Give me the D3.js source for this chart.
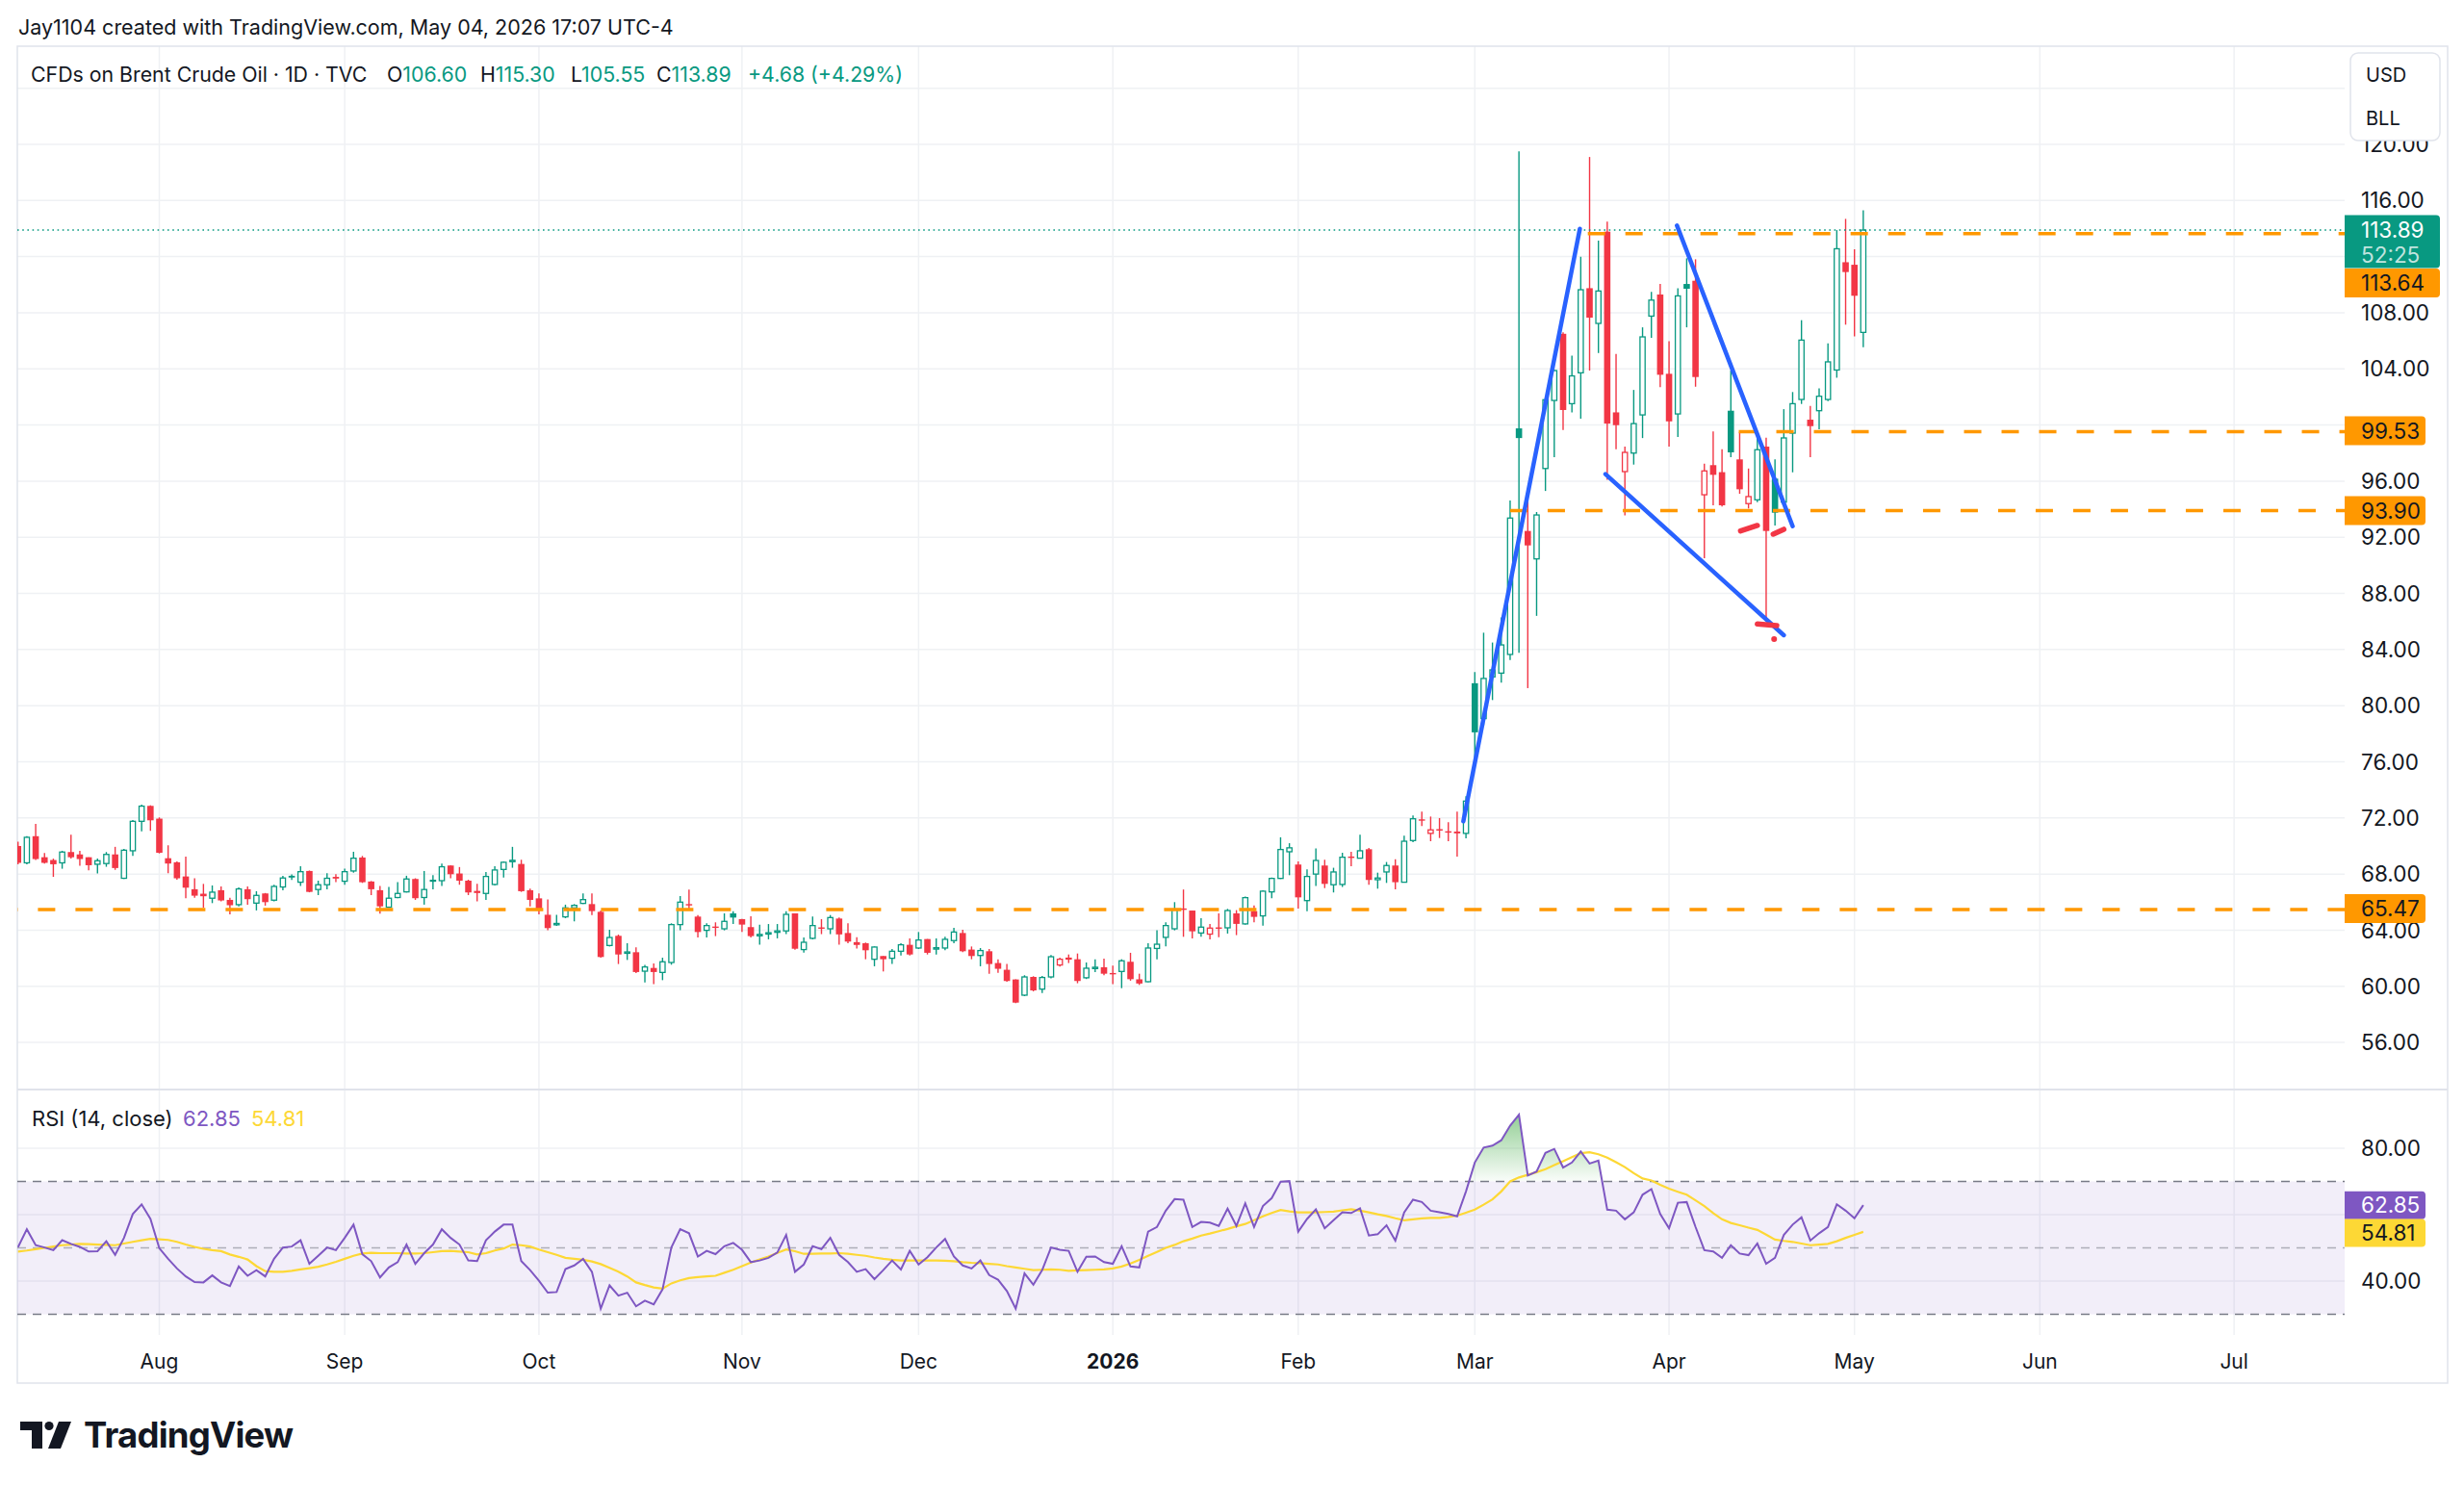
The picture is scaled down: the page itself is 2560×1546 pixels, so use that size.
<!DOCTYPE html>
<html>
<head>
<meta charset="utf-8">
<script src="https://cdn.jsdelivr.net/npm/d3@7"></script>
<style>
  html, body { margin: 0; padding: 0; background: #fff; }
  svg { display: block; font-family: Inter, "Noto Sans", sans-serif; }
</style>
</head>
<body>
<svg id="chart" width="2560" height="1546"></svg>
<script>
// daily bars, Jul 10 2025 .. May 4 2026 (index 0..209)
const opens = [
  70.0, 68.8, 70.7, 69.2, 69.0, 68.8, 69.57, 69.4, 69.2, 68.7,
  68.75, 69.4, 67.7, 69.66, 71.76, 72.86, 71.95, 69.13, 68.84, 67.83,
  66.92, 66.6, 66.28, 66.85, 66.16, 65.82, 66.92, 65.93, 66.62, 66.14,
  67.08, 67.88, 67.42, 68.22, 66.9, 67.24, 67.8, 67.49, 68.22, 69.18,
  67.47, 66.85, 65.64, 66.33, 66.73, 67.65, 66.33, 67.6, 67.53, 68.61,
  68.04, 67.53, 66.8, 66.62, 67.26, 68.33, 68.95, 68.72, 66.85, 66.27,
  65.1, 64.4, 64.95, 65.59, 65.91, 65.86, 65.31, 62.91, 63.6, 62.4,
  62.43, 61.08, 61.31, 60.99, 61.7, 64.4, 65.86, 64.97, 63.99, 64.26,
  64.1, 65.2, 64.79, 64.22, 63.6, 63.8, 63.85, 63.95, 65.2, 62.62,
  63.42, 64.2, 64.1, 64.83, 63.8, 63.15, 63.07, 61.93, 62.16, 62.0,
  62.5, 62.96, 62.73, 63.37, 62.7, 62.73, 63.26, 63.8, 62.62, 62.2,
  62.5, 61.66, 61.18, 60.49, 59.37, 60.67, 59.8, 60.67, 61.52, 62.05,
  61.93, 60.61, 61.31, 61.36, 60.95, 61.06, 61.75, 60.5, 60.33, 62.7,
  63.49, 64.1, 65.55, 65.4, 63.8, 63.72, 64.2, 64.17, 65.2, 64.45,
  65.36, 65.02, 66.73, 67.69, 69.59, 68.68, 66.11, 68.0, 68.61, 67.24,
  67.26, 69.25, 69.13, 69.77, 67.6, 68.15, 68.61, 67.42, 70.39, 71.9,
  70.9, 71.2, 71.05, 71.03, 70.9, 81.6, 79.08, 82.05, 82.32, 83.65,
  99.76, 92.45, 90.46, 96.9, 101.75, 106.5, 101.52, 103.72, 109.75, 107.24,
  113.78, 100.9, 96.68, 98.0, 100.72, 107.76, 109.3, 103.65, 100.79, 110.05,
  110.28, 95.03, 97.14, 96.64, 101.02, 97.55, 94.4, 94.67, 98.46, 96.18,
  94.51, 99.42, 101.82, 100.38, 101.02, 101.82, 103.92, 111.6, 111.42, 106.6
];
const highs = [
  70.3, 70.7, 71.58, 69.5, 69.1, 69.66, 70.8, 69.66, 69.2, 69.1,
  69.57, 69.94, 69.8, 71.85, 72.95, 72.9, 72.04, 70.05, 68.9, 69.25,
  67.7, 67.3, 67.19, 67.12, 66.32, 67.05, 67.12, 66.78, 66.65, 67.24,
  67.88, 67.97, 68.56, 68.25, 67.53, 68.06, 68.0, 68.38, 69.59, 69.29,
  67.5, 67.15, 67.08, 67.42, 67.88, 67.7, 68.22, 67.92, 68.75, 68.63,
  68.5, 67.6, 67.3, 68.15, 68.56, 68.9, 69.94, 69.02, 66.96, 66.62,
  66.2, 65.1, 65.82, 65.86, 66.62, 66.62, 65.4, 64.03, 63.69, 63.07,
  62.78, 61.52, 61.63, 62.04, 64.49, 66.43, 66.89, 65.08, 64.49, 64.56,
  65.2, 65.36, 64.8, 65.0, 64.4, 64.44, 64.44, 65.36, 65.2, 63.48,
  64.97, 64.79, 65.08, 64.9, 64.49, 63.5, 63.12, 62.84, 62.16, 62.66,
  63.07, 63.42, 63.87, 63.37, 63.42, 63.53, 64.17, 64.03, 62.84, 62.73,
  62.66, 61.93, 61.59, 60.5, 60.79, 60.72, 60.74, 62.23, 62.05, 62.27,
  62.34, 61.7, 61.93, 61.98, 61.47, 61.93, 62.39, 60.9, 63.07, 63.99,
  64.56, 66.0, 66.9, 65.4, 64.86, 64.44, 65.2, 65.52, 65.43, 66.4,
  65.77, 66.85, 67.76, 70.62, 70.2, 68.9, 68.33, 69.82, 69.02, 68.45,
  69.52, 69.59, 70.8, 69.86, 68.1, 68.86, 69.06, 70.73, 72.17, 72.45,
  72.1, 71.99, 71.7, 72.45, 73.55, 82.4, 85.2, 84.5, 86.28, 94.62,
  119.5, 95.08, 93.8, 101.9, 103.95, 106.6, 104.95, 111.99, 119.1, 113.14,
  114.5, 105.07, 98.46, 102.5, 106.96, 109.48, 110.05, 105.98, 109.75, 111.88,
  111.81, 97.25, 99.54, 98.28, 103.88, 99.5, 96.9, 99.2, 99.1, 97.55,
  101.13, 102.35, 107.47, 101.36, 102.62, 105.82, 113.89, 114.69, 112.52, 115.3
];
const lows = [
  68.7, 68.7, 69.0, 68.75, 67.8, 68.38, 69.1, 68.6, 68.27, 68.05,
  68.52, 68.3, 67.65, 69.3, 71.05, 71.08, 69.47, 68.06, 67.6, 66.28,
  66.32, 65.6, 65.93, 66.05, 65.13, 65.7, 65.82, 65.41, 65.75, 66.05,
  66.85, 67.58, 67.15, 66.7, 66.5, 66.92, 67.42, 67.24, 68.1, 67.37,
  66.5, 65.18, 65.6, 66.28, 66.69, 66.16, 65.82, 66.92, 67.15, 67.7,
  67.24, 66.5, 66.05, 66.16, 67.19, 67.76, 68.45, 66.73, 65.7, 65.13,
  64.0, 64.3, 64.86, 64.63, 65.86, 65.08, 62.05, 62.84, 61.59, 61.88,
  60.95, 60.28, 60.15, 60.44, 61.54, 64.0, 65.54, 63.48, 63.48, 63.58,
  63.99, 64.44, 63.87, 63.48, 62.96, 63.35, 63.42, 63.72, 62.6, 62.4,
  63.35, 63.72, 63.72, 62.96, 63.07, 62.7, 61.93, 61.43, 61.06, 61.59,
  62.2, 62.2, 62.66, 62.27, 62.27, 62.57, 63.07, 62.43, 61.93, 61.43,
  60.9, 60.97, 60.33, 58.8, 59.3, 59.64, 59.53, 60.56, 61.4, 61.66,
  60.22, 60.52, 61.02, 60.79, 60.15, 59.87, 60.4, 60.1, 60.3, 61.93,
  62.85, 63.99, 63.53, 63.42, 63.53, 63.35, 63.5, 63.76, 63.65, 64.4,
  64.56, 64.33, 66.27, 67.65, 67.92, 65.54, 65.36, 67.15, 67.0, 66.69,
  67.08, 68.56, 69.13, 67.24, 66.96, 67.37, 66.92, 67.4, 70.27, 71.42,
  70.34, 70.57, 70.34, 69.25, 70.55, 75.9, 78.6, 80.4, 81.64, 83.26,
  83.76, 81.25, 86.4, 95.3, 97.7, 99.65, 100.9, 100.45, 103.88, 105.13,
  96.1, 98.28, 93.55, 97.18, 99.07, 106.21, 102.69, 98.46, 99.15, 106.96,
  102.73, 90.51, 94.28, 94.2, 97.7, 95.1, 94.05, 94.5, 86.16, 92.84,
  94.4, 96.63, 101.5, 97.7, 99.7, 101.7, 103.37, 107.15, 106.32, 105.55
];
const closes = [
  68.8, 70.62, 69.07, 68.8, 68.7, 69.57, 69.2, 69.07, 68.63, 68.95,
  69.4, 68.43, 69.7, 71.76, 72.84, 71.83, 69.52, 68.75, 67.7, 67.03,
  66.46, 66.42, 66.71, 66.12, 65.78, 66.94, 66.21, 66.48, 66.0, 67.12,
  67.72, 67.75, 68.17, 66.73, 67.24, 67.7, 67.68, 68.17, 69.13, 67.42,
  66.92, 65.7, 66.28, 66.62, 67.65, 66.28, 66.9, 67.45, 68.52, 67.99,
  67.53, 66.69, 66.65, 67.83, 68.29, 68.84, 68.98, 66.78, 66.16, 65.4,
  64.15, 64.48, 65.59, 65.77, 66.18, 65.36, 62.09, 63.48, 62.27, 62.45,
  61.02, 61.38, 61.02, 61.75, 64.4, 66.0, 65.77, 63.87, 64.33, 64.19,
  64.63, 64.9, 64.4, 63.58, 63.7, 63.82, 63.95, 65.13, 62.68, 63.14,
  64.33, 64.12, 64.9, 63.7, 63.19, 62.95, 62.57, 62.8, 61.93, 62.5,
  62.96, 62.27, 63.3, 62.39, 62.75, 63.35, 63.87, 62.5, 62.16, 62.55,
  61.59, 61.25, 60.38, 58.84, 60.67, 59.71, 60.63, 62.11, 61.93, 61.9,
  60.38, 61.29, 61.36, 60.9, 60.88, 61.82, 60.51, 60.2, 62.73, 63.0,
  64.33, 65.47, 65.45, 63.92, 64.22, 64.15, 64.12, 65.4, 64.45, 66.32,
  64.95, 66.78, 67.69, 69.75, 69.87, 66.34, 67.83, 68.97, 67.3, 68.15,
  69.2, 69.15, 69.66, 67.58, 67.72, 68.61, 67.42, 70.34, 71.94, 71.83,
  71.15, 71.1, 71.0, 70.9, 73.2, 78.1, 81.94, 82.55, 84.33, 93.37,
  99.07, 91.42, 93.59, 101.8, 103.88, 101.07, 103.5, 109.64, 107.65, 109.55,
  100.1, 99.99, 98.05, 100.1, 106.28, 108.9, 103.58, 100.26, 109.2, 109.71,
  103.42, 96.73, 96.45, 94.28, 98.05, 95.42, 94.9, 98.24, 92.45, 93.75,
  99.08, 101.52, 106.05, 99.92, 102.05, 104.5, 112.56, 110.9, 109.21, 113.89
];

// RSI (14, close) and its moving average, one value per bar
const rsiValues = [
  50.2, 55.6, 50.8, 50.1, 49.3, 52.3, 51.2, 50.3, 48.9, 49.0,
  52.0, 47.9, 53.0, 60.2, 63.1, 58.7, 49.9, 46.7, 43.8, 41.4,
  39.7, 39.6, 41.7, 39.6, 38.5, 44.4, 41.6, 43.3, 41.4, 46.7,
  50.1, 50.4, 52.3, 45.2, 47.6, 50.1, 49.3, 53.0, 57.0, 48.1,
  46.0, 41.1, 44.1, 45.7, 51.0, 45.2, 48.4, 51.0, 55.6, 53.0,
  51.0, 46.2, 46.0, 52.3, 54.9, 57.0, 57.0, 46.0, 43.3, 40.1,
  36.5, 36.7, 43.6, 44.7, 46.7, 42.8, 31.7, 38.7, 35.6, 36.5,
  32.4, 34.1, 33.0, 37.5, 50.1, 55.6, 54.4, 47.4, 49.1, 48.1,
  50.5, 51.5, 49.4, 45.7, 46.2, 47.0, 48.6, 53.9, 42.8, 45.0,
  50.5, 49.6, 53.0, 47.9, 45.7, 42.8, 43.6, 40.6, 43.3, 46.2,
  43.5, 49.1, 45.0, 47.2, 50.1, 52.7, 47.4, 44.7, 43.8, 46.2,
  41.8, 40.4, 37.0, 31.7, 42.3, 38.9, 43.3, 50.1, 49.4, 49.1,
  42.8, 47.3, 47.4, 45.7, 45.2, 50.5, 44.4, 44.1, 54.9, 56.3,
  61.2, 64.7, 64.5, 56.3, 57.8, 57.6, 56.6, 61.8, 56.6, 63.4,
  56.3, 62.6, 65.0, 69.9, 70.1, 54.9, 58.7, 61.6, 55.9, 58.3,
  60.7, 60.5, 61.9, 53.7, 54.1, 56.8, 52.2, 60.7, 64.5, 63.8,
  61.2, 60.7, 60.2, 59.5, 67.0, 75.7, 80.2, 80.8, 82.4, 86.8,
  90.1, 71.8, 73.0, 78.6, 79.8, 74.2, 75.7, 79.0, 75.4, 76.3,
  61.5, 61.2, 58.6, 60.7, 66.0, 67.7, 60.2, 55.9, 63.6, 63.8,
  56.3, 49.3, 48.9, 47.0, 50.8, 48.3, 47.8, 51.3, 45.2, 47.0,
  53.9, 57.0, 59.2, 52.2, 54.4, 56.3, 63.1, 61.2, 58.9, 62.85
];
const rsiMA = [
  48.9, 49.2, 49.6, 50.0, 50.4, 50.8, 51.0, 51.2, 51.1, 51.0,
  50.9, 50.8, 51.3, 51.8, 52.3, 52.7, 52.6, 52.4, 51.8, 51.0,
  50.3, 49.7, 49.3, 49.0, 48.0, 47.3, 46.5, 44.5, 43.0, 42.8,
  42.8, 43.1, 43.5, 43.9, 44.3, 45.0, 45.8, 46.7, 47.6, 48.3,
  48.5, 48.4, 48.4, 48.4, 48.3, 48.3, 48.4, 48.7, 49.0, 49.1,
  48.9, 48.7, 48.0, 48.4, 49.2, 49.8, 51.0, 50.8, 50.4, 49.5,
  48.7, 47.9, 47.0, 46.7, 46.4, 45.9, 45.1, 44.0, 42.8, 41.4,
  39.6, 38.8, 38.1, 37.7, 39.3, 40.2, 40.9, 41.2, 41.4, 41.6,
  42.5, 43.4, 44.5, 45.6, 46.5, 47.4, 48.5, 49.5, 49.0, 48.2,
  48.2, 48.3, 48.3, 48.4, 48.2, 47.9, 47.6, 47.1, 46.7, 46.4,
  46.2, 46.2, 46.2, 46.2, 46.2, 46.1, 46.0, 45.7, 45.5, 45.4,
  45.2, 45.0, 44.5, 44.1, 43.7, 43.3, 43.4, 43.5, 43.4, 43.1,
  43.2, 43.3, 43.4, 43.5, 43.8, 44.4, 45.3, 46.4, 47.6, 48.8,
  50.0, 50.9, 52.0, 52.8, 53.7, 54.3, 55.0, 55.7, 56.5, 57.2,
  58.3, 59.5, 60.5, 61.4, 61.0, 60.7, 60.7, 60.7, 60.8, 60.9,
  61.3, 61.6, 61.2, 60.7, 60.1, 59.6, 58.9, 58.3, 58.6, 58.9,
  59.0, 59.0, 59.3, 59.7, 60.6, 61.5, 63.0, 64.6, 67.0, 70.0,
  71.2, 72.0, 72.8, 73.7, 74.9, 76.1, 77.3, 78.5, 78.8, 78.2,
  77.2, 75.8, 74.3, 72.5, 70.9, 70.3, 69.0, 67.8, 66.9, 66.0,
  64.3, 62.6, 60.5, 58.6, 57.5, 56.8, 56.1, 55.4, 54.0, 52.5,
  52.1, 51.8, 51.3, 50.8, 51.0, 51.2, 52.0, 53.0, 53.9, 54.81
];

// time axis: label and the bar index it sits on
const monthLabels = ["Aug", "Sep", "Oct", "Nov", "Dec", "2026", "Feb", "Mar", "Apr", "May", "Jun", "Jul"];
const monthBars = [16, 37, 59, 82, 102, 124, 145, 165, 187, 208, 229, 251];

const priceTicks = [56, 60, 64, 68, 72, 76, 80, 84, 88, 92, 96, 100, 104, 108, 112, 116, 120, 124];
// labels the scale actually shows (the others sit under tags / the unit box)
const priceTickLabels = [56, 60, 64, 68, 72, 76, 80, 84, 88, 92, 96, 104, 108, 116, 120];
const rsiTicks = [80, 60, 40];
const rsiTickLabels = [80, 40];

// horizontal rays drawn on the chart: price and the bar they start from
const levelPrices = [65.47, 113.64, 99.53, 93.90];
const levelStartBars = [-2, 177.8, 194.9, 169.0];

// trend lines [bar1, price1, bar2, price2]
const trendLines = [
  [163.7, 71.76, 176.9, 113.98],
  [187.9, 114.21, 201.0, 92.79],
  [179.8, 96.5, 200.0, 85.02]
];
const markLines = [
  [195.1, 92.45, 197.0, 92.84],
  [198.8, 92.22, 200.0, 92.57],
  [197.0, 85.82, 199.2, 85.71]
];
const markDots = [[198.9, 84.75]];

const UP = "#089981", DOWN = "#F23645", TEXT = "#131722";
const GRID = "#eff1f4", BORDER = "#e0e3eb";

const plotLeft = 18, plotRight = 2436, frameRight = 2543;
const frameTop = 48, priceBottom = 1132, rsiBottom = 1387, frameBottom = 1437;

const x = d3.scaleLinear().domain([16, 208]).range([165.5, 1926.7]);
const y = d3.scaleLinear().domain([56, 116]).range([1083.1, 208.3]);
const yr = d3.scaleLinear().domain([40, 80]).range([1331, 1193]);

const svg = d3.select("#chart");
const defs = svg.append("defs");

defs.append("clipPath").attr("id", "clipPrice")
  .append("rect").attr("x", plotLeft).attr("y", frameTop)
  .attr("width", plotRight - plotLeft).attr("height", priceBottom - frameTop);
defs.append("clipPath").attr("id", "clipRsi")
  .append("rect").attr("x", plotLeft).attr("y", priceBottom)
  .attr("width", plotRight - plotLeft).attr("height", rsiBottom - priceBottom);
defs.append("clipPath").attr("id", "clipOver")
  .append("rect").attr("x", plotLeft).attr("y", priceBottom)
  .attr("width", plotRight - plotLeft).attr("height", yr(70) - priceBottom);

const grad = defs.append("linearGradient").attr("id", "obGrad")
  .attr("gradientUnits", "userSpaceOnUse")
  .attr("x1", 0).attr("x2", 0).attr("y1", yr(90)).attr("y2", yr(70));
grad.append("stop").attr("offset", 0).attr("stop-color", "rgba(76,175,80,0.6)");
grad.append("stop").attr("offset", 1).attr("stop-color", "rgba(76,175,80,0.03)");

svg.append("rect").attr("width", 2560).attr("height", 1546).attr("fill", "#fff");

// grid
const grid = svg.append("g");
grid.selectAll(".hgrid").data(priceTicks).enter().append("line")
  .attr("x1", plotLeft).attr("x2", plotRight)
  .attr("y1", d => y(d)).attr("y2", d => y(d))
  .attr("stroke", GRID).attr("stroke-width", 1.5)
  .attr("clip-path", "url(#clipPrice)");
grid.selectAll(".vgrid").data(monthBars).enter().append("line")
  .attr("x1", d => x(d)).attr("x2", d => x(d))
  .attr("y1", frameTop).attr("y2", rsiBottom)
  .attr("stroke", GRID).attr("stroke-width", 1.5);
grid.selectAll(".rgrid").data(rsiTicks).enter().append("line")
  .attr("x1", plotLeft).attr("x2", plotRight)
  .attr("y1", d => yr(d)).attr("y2", d => yr(d))
  .attr("stroke", GRID).attr("stroke-width", 1.5);

// frame
svg.append("rect").attr("x", plotLeft).attr("y", frameTop)
  .attr("width", frameRight - plotLeft).attr("height", frameBottom - frameTop)
  .attr("fill", "none").attr("stroke", BORDER).attr("stroke-width", 1.5);
svg.append("line").attr("x1", plotLeft).attr("x2", frameRight)
  .attr("y1", priceBottom).attr("y2", priceBottom)
  .attr("stroke", BORDER).attr("stroke-width", 2);

// candles (hollow when close > open, colour by close vs previous close)
const bars = d3.range(opens.length);
const colorOf = i => closes[i] >= (i > 0 ? closes[i - 1] : opens[i]) ? UP : DOWN;
const bodyW = 6.6;
const candles = svg.append("g").attr("clip-path", "url(#clipPrice)");

candles.selectAll(".wick").data(bars).enter().append("line")
  .attr("x1", i => x(i)).attr("x2", i => x(i))
  .attr("y1", i => y(highs[i])).attr("y2", i => y(lows[i]))
  .attr("stroke", colorOf).attr("stroke-width", 1.4);

candles.selectAll(".body").data(bars).enter().append("rect")
  .attr("x", i => closes[i] > opens[i] ? x(i) - bodyW / 2 + 0.65 : x(i) - bodyW / 2)
  .attr("y", i => y(Math.max(opens[i], closes[i])))
  .attr("width", i => closes[i] > opens[i] ? bodyW - 1.3 : bodyW)
  .attr("height", i => Math.max(Math.abs(y(opens[i]) - y(closes[i])), 1.4))
  .attr("fill", i => closes[i] > opens[i] ? "#fff" : colorOf(i))
  .attr("stroke", i => closes[i] > opens[i] ? colorOf(i) : "none")
  .attr("stroke-width", 1.3);

// drawings
const draw = svg.append("g").attr("clip-path", "url(#clipPrice)");
draw.append("line")
  .attr("x1", plotLeft).attr("x2", plotRight)
  .attr("y1", y(closes[closes.length - 1])).attr("y2", y(closes[closes.length - 1]))
  .attr("stroke", UP).attr("stroke-width", 1.6).attr("stroke-dasharray", "1.6,3.6");

draw.selectAll(".level").data(levelPrices).enter().append("line")
  .attr("x1", (d, k) => x(levelStartBars[k])).attr("x2", plotRight)
  .attr("y1", d => y(d)).attr("y2", d => y(d))
  .attr("stroke", "#FF9800").attr("stroke-width", 3.6).attr("stroke-dasharray", "18,21");

draw.selectAll(".trend").data(trendLines).enter().append("line")
  .attr("x1", d => x(d[0])).attr("y1", d => y(d[1]))
  .attr("x2", d => x(d[2])).attr("y2", d => y(d[3]))
  .attr("stroke", "#2962FF").attr("stroke-width", 4.5).attr("stroke-linecap", "round");

draw.selectAll(".mark").data(markLines).enter().append("line")
  .attr("x1", d => x(d[0])).attr("y1", d => y(d[1]))
  .attr("x2", d => x(d[2])).attr("y2", d => y(d[3]))
  .attr("stroke", DOWN).attr("stroke-width", 5.5).attr("stroke-linecap", "round");
draw.selectAll(".dot").data(markDots).enter().append("circle")
  .attr("cx", d => x(d[0])).attr("cy", d => y(d[1])).attr("r", 3)
  .attr("fill", DOWN);

// RSI pane
const rsiG = svg.append("g").attr("clip-path", "url(#clipRsi)");
rsiG.append("rect").attr("x", plotLeft).attr("width", plotRight - plotLeft)
  .attr("y", yr(70)).attr("height", yr(30) - yr(70))
  .attr("fill", "rgba(126,87,194,0.1)");
rsiG.selectAll(".band").data([70, 50, 30]).enter().append("line")
  .attr("x1", plotLeft).attr("x2", plotRight)
  .attr("y1", d => yr(d)).attr("y2", d => yr(d))
  .attr("stroke", d => d === 50 ? "rgba(120,123,134,0.55)" : "#787B86")
  .attr("stroke-width", 1.6).attr("stroke-dasharray", "9,7");

rsiG.append("path").datum(bars)
  .attr("clip-path", "url(#clipOver)")
  .attr("fill", "url(#obGrad)")
  .attr("d", d3.area().x(i => x(i)).y0(yr(70)).y1(i => yr(rsiValues[i])));

rsiG.append("path").datum(bars)
  .attr("fill", "none").attr("stroke", "#FDD835").attr("stroke-width", 2.2)
  .attr("d", d3.line().x(i => x(i)).y(i => yr(rsiMA[i])));
rsiG.append("path").datum(bars)
  .attr("fill", "none").attr("stroke", "#7E57C2").attr("stroke-width", 2)
  .attr("d", d3.line().x(i => x(i)).y(i => yr(rsiValues[i])));

// price scale labels
const axisFont = 22.5;
svg.selectAll(".plabel").data(priceTickLabels).enter().append("text")
  .attr("x", 2453).attr("y", d => y(d)).attr("dy", "0.36em")
  .attr("font-size", axisFont).attr("fill", TEXT)
  .text(d => d.toFixed(2));
svg.selectAll(".rlabel").data(rsiTickLabels).enter().append("text")
  .attr("x", 2453).attr("y", d => yr(d)).attr("dy", "0.36em")
  .attr("font-size", axisFont).attr("fill", TEXT)
  .text(d => d.toFixed(2));

// time axis labels
svg.selectAll(".tlabel").data(monthLabels).enter().append("text")
  .attr("x", (d, k) => x(monthBars[k])).attr("y", 1414).attr("dy", "0.36em")
  .attr("text-anchor", "middle").attr("font-size", 21).attr("fill", TEXT)
  .attr("font-weight", d => d === "2026" ? 700 : 400)
  .text(d => d);

// price tags on the scale
function tag(yc, label, bg, fg, h, right) {
  const g = svg.append("g");
  g.append("path")
    .attr("d", `M2436,${yc - h / 2} H${right - 4} Q${right},${yc - h / 2} ${right},${yc - h / 2 + 4} V${yc + h / 2 - 4} Q${right},${yc + h / 2} ${right - 4},${yc + h / 2} H2436 Z`)
    .attr("fill", bg);
  g.append("text").attr("x", 2453).attr("y", yc).attr("dy", "0.36em")
    .attr("font-size", axisFont).attr("fill", fg).text(label);
  return g;
}
const lastClose = closes[closes.length - 1];
const lastTag = tag(y(lastClose) + 12, "", UP, "#fff", 55, 2535);
lastTag.append("text").attr("x", 2453).attr("y", y(lastClose)).attr("dy", "0.36em")
  .attr("font-size", axisFont).attr("fill", "#fff").text(lastClose.toFixed(2));
lastTag.append("text").attr("x", 2453).attr("y", y(lastClose) + 26).attr("dy", "0.36em")
  .attr("font-size", axisFont).attr("fill", "rgba(255,255,255,0.75)").text("52:25");
tag(294, levelPrices[1].toFixed(2), "#FF9800", TEXT, 30, 2535);
tag(y(levelPrices[2]) - 1, levelPrices[2].toFixed(2), "#FF9800", TEXT, 30, 2520);
tag(y(levelPrices[3]), levelPrices[3].toFixed(2), "#FF9800", TEXT, 30, 2520);
tag(y(levelPrices[0]) - 1, levelPrices[0].toFixed(2), "#FF9800", TEXT, 30, 2520);
tag(yr(rsiValues[rsiValues.length - 1]), rsiValues[rsiValues.length - 1].toFixed(2), "#7E57C2", "#fff", 29, 2520);
tag(yr(rsiMA[rsiMA.length - 1]) + 1, rsiMA[rsiMA.length - 1].toFixed(2), "#FDD835", TEXT, 29, 2520);

// currency / unit box
svg.append("rect").attr("x", 2442).attr("y", 55).attr("width", 93).attr("height", 91)
  .attr("rx", 8).attr("fill", "#fff").attr("stroke", BORDER).attr("stroke-width", 1.5);
svg.append("text").attr("x", 2458).attr("y", 78).attr("dy", "0.36em")
  .attr("font-size", 20).attr("fill", TEXT).text("USD");
svg.append("text").attr("x", 2458).attr("y", 123).attr("dy", "0.36em")
  .attr("font-size", 20).attr("fill", TEXT).text("BLL");

// header
svg.append("text").attr("x", 19).attr("y", 28).attr("dy", "0.36em")
  .attr("font-size", 21.5).attr("fill", TEXT)
  .text("Jay1104 created with TradingView.com, May 04, 2026 17:07 UTC-4");

const legend = svg.append("g").attr("font-size", 21.3);
legend.append("text").attr("x", 32).attr("y", 77).attr("dy", "0.36em")
  .attr("fill", TEXT).text("CFDs on Brent Crude Oil · 1D · TVC");
const ohlc = [["O", opens], ["H", highs], ["L", lows], ["C", closes]];
const ohlcX = [402, 499, 593, 682];
ohlc.forEach(([k, arr], n) => {
  const t = legend.append("text").attr("x", ohlcX[n]).attr("y", 77).attr("dy", "0.36em");
  t.append("tspan").attr("fill", TEXT).text(k);
  t.append("tspan").attr("fill", UP).text(arr[arr.length - 1].toFixed(2));
});
const chg = closes[closes.length - 1] - closes[closes.length - 2];
legend.append("text").attr("x", 777).attr("y", 77).attr("dy", "0.36em").attr("fill", UP)
  .text(`+${chg.toFixed(2)} (+${(chg / closes[closes.length - 2] * 100).toFixed(2)}%)`);

const rsiLegend = svg.append("g").attr("font-size", 22);
rsiLegend.append("text").attr("x", 33).attr("y", 1162).attr("dy", "0.36em")
  .attr("fill", TEXT).text("RSI (14, close)");
rsiLegend.append("text").attr("x", 190).attr("y", 1162).attr("dy", "0.36em")
  .attr("fill", "#7E57C2").text(rsiValues[rsiValues.length - 1].toFixed(2));
rsiLegend.append("text").attr("x", 261).attr("y", 1162).attr("dy", "0.36em")
  .attr("fill", "#FDD835").text(rsiMA[rsiMA.length - 1].toFixed(2));

// logo
const logo = svg.append("g").attr("fill", TEXT);
logo.append("path").attr("d", "M21,1477 H44 V1505 H33 V1486 H21 Z");
logo.append("circle").attr("cx", 51).attr("cy", 1481.5).attr("r", 4.6);
logo.append("path").attr("d", "M61,1477 H74 L63,1505 H50 Z");
logo.append("text").attr("x", 87).attr("y", 1491).attr("dy", "0.36em")
  .attr("font-size", 36.5).attr("font-weight", 700).attr("letter-spacing", -0.8)
  .text("TradingView");
</script>
</body>
</html>
